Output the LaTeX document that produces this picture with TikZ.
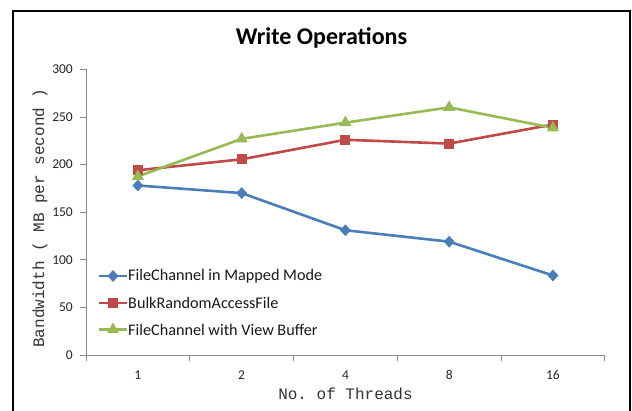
\documentclass[tikz,border=0pt]{standalone}
\usepackage{fontspec}
\setmainfont{Carlito}
\setmonofont{Liberation Mono}
\usetikzlibrary{shapes.geometric}
\definecolor{sblue}{HTML}{4A7EBB}
\definecolor{sred}{HTML}{BE4B48}
\definecolor{sgreen}{HTML}{98B954}
\definecolor{axisgray}{HTML}{888888}
\begin{document}
\begin{tikzpicture}[x=1pt,y=-1pt,
  frame/.style={draw=black,line width=2pt},
  axisline/.style={draw=axisgray,line width=0.8pt},
  ticklab/.style={font=\fontsize{13.5}{13.5}\selectfont,text=black!85,inner sep=0pt},
  axlab/.style={font=\ttfamily\fontsize{16}{16}\selectfont,text=black!80,inner sep=0pt},
  legtext/.style={font=\fontsize{16.2}{16.2}\selectfont,text=black!90,anchor=west,inner sep=1pt},
  series/.style={line width=2.6pt,line join=round},
  mdia/.style={diamond,fill=sblue,inner sep=0pt,minimum width=11pt,minimum height=12pt},
  msq/.style={rectangle,fill=sred,inner sep=0pt,minimum size=10pt},
  mtri/.style={regular polygon,regular polygon sides=3,fill=sgreen,inner sep=0pt,minimum size=14pt}]
\useasboundingbox (0,0) rectangle (632,411);
\fill[white] (0,0) rectangle (632,411);
% frame
\draw[frame] (13,415) -- (13,11) -- (630,11) -- (630,415);
% title
\node[font=\bfseries\fontsize{24}{24}\selectfont,inner sep=0pt] (title) at (321.5,38) {Write Operations};
% axes
\coordinate (yt) at (86,69.3);
\coordinate (org) at (86,355);
\coordinate (xr) at (605,355);
\draw[axisline] (yt) -- (org) -- (xr);
\foreach \v [count=\i from 0] in {0,50,...,300}{
  \draw[axisline] (80,{355-0.9523*\v}) -- (86,{355-0.9523*\v});
  \node[ticklab,anchor=east] (yl\i) at (73,{355-0.9523*\v}) {\v};
}
\foreach \i in {0,...,5}{
  \draw[axisline] ({86+103.76*\i},355) -- ({86+103.76*\i},361);
}
\foreach \l [count=\i from 0] in {1,2,4,8,16}{
  \node[ticklab] (xl\i) at ({137.9+103.76*\i},375) {\l};
}
\node[axlab] (xlab) at (345.5,394) {No. of Threads};
\node[axlab,rotate=90] (ylab) at (40,218) {Bandwidth ( MB per second )};
% data
\begin{scope}[shift={(0,355)},y=0.9523pt]
  \foreach \n/\v [count=\i from 0] in {b0/178,b1/170,b2/131,b3/119,b4/83.5}{
    \coordinate (\n) at ({137.9+103.76*\i},\v);
  }
  \foreach \n/\v [count=\i from 0] in {r0/194,r1/205.5,r2/226,r3/222,r4/242}{
    \coordinate (\n) at ({137.9+103.76*\i},\v);
  }
  \foreach \n/\v [count=\i from 0] in {g0/187.5,g1/227,g2/244,g3/260,g4/238.5}{
    \coordinate (\n) at ({137.9+103.76*\i},\v);
  }
\end{scope}
\draw[series,sblue] (b0) -- (b1) -- (b2) -- (b3) -- (b4);
\draw[series,sred] (r0) -- (r1) -- (r2) -- (r3) -- (r4);
\draw[series,sgreen] (g0) -- (g1) -- (g2) -- (g3) -- (g4);
\foreach \i in {0,...,4}{
  \node[mdia] (mb\i) at (b\i) {};
  \node[msq] (mr\i) at (r\i) {};
  \node[mtri] (mg\i) at (g\i) {};
}
% legend
\coordinate (la0) at (99,276);  \coordinate (lb0) at (127,276);
\coordinate (la1) at (99,303);  \coordinate (lb1) at (127,303);
\coordinate (la2) at (99,329.5);\coordinate (lb2) at (127,329.5);
\draw[series,sblue] (la0) -- (lb0);
\draw[series,sred] (la1) -- (lb1);
\draw[series,sgreen] (la2) -- (lb2);
\node[mdia] (lm0) at (113,276) {};
\node[msq] (lm1) at (113,303) {};
\node[mtri] (lm2) at (113,329.5) {};
\node[legtext] (lt0) at (lb0) {FileChannel in Mapped Mode};
\node[legtext] (lt1) at (lb1) {BulkRandomAccessFile};
\node[legtext] (lt2) at (lb2) {FileChannel with View Buffer};
\end{tikzpicture}
\end{document}
